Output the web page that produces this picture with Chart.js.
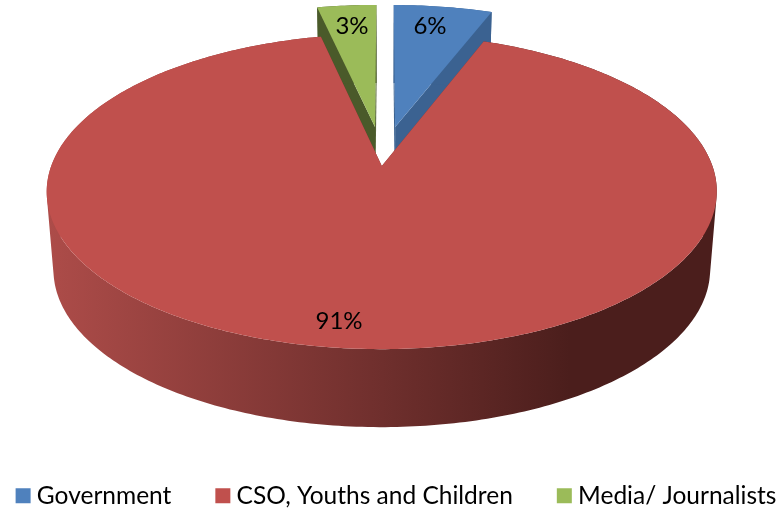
<!DOCTYPE html>
<html>
<head>
<meta charset="utf-8">
<style>html,body{margin:0;padding:0;background:#fff}canvas{display:block}</style>
<script src="https://cdn.jsdelivr.net/npm/chart.js@4/dist/chart.umd.min.js"></script>
</head>
<body>
<canvas id="c" width="780" height="510"></canvas>
<script>
const categories = ['Government', 'CSO, Youths and Children', 'Media/ Journalists'];
const values = [5.75, 90.8, 3.45];
const faceColors = ['#4f81bd', '#c0504d', '#9bbb59'];
const cutColors = ['#3b6291', '#7a3230', '#4a5a2a'];
const explode = [30, 30, 30];
const planeShift = [0.008, 0, -0.017];
const labelSpots = [[430, 26], [339, 321], [352, 26]];

const view = {cx: 385, cy: 146, a: 323.6, b: 147, p: 0.159, depth: 78, shrink: 0.98};
function project(X, Y) {
  const w = 1 - view.p * Y;
  return [view.cx + view.a * X / w, view.cy + view.b * Y / w];
}
function lower(pt) {
  return [view.cx + (pt[0] - view.cx) * view.shrink, pt[1] + view.depth];
}
function polygon(ctx, pts, fill) {
  ctx.beginPath();
  pts.forEach((p, i) => i ? ctx.lineTo(p[0], p[1]) : ctx.moveTo(p[0], p[1]));
  ctx.closePath();
  ctx.fillStyle = fill;
  ctx.fill();
}
// union of the wall quads: every quad is wound the same way, so none cancels another
function wallStrip(ctx, rim, fill) {
  ctx.beginPath();
  for (let k = 0; k < rim.length - 1; k++) {
    let q = [rim[k], rim[k + 1], lower(rim[k + 1]), lower(rim[k])];
    let area = 0;
    q.forEach((p, j) => {
      const n = q[(j + 1) % 4];
      area += p[0] * n[1] - n[0] * p[1];
    });
    if (area < 0) q = q.reverse();
    q.forEach((p, j) => j ? ctx.lineTo(p[0], p[1]) : ctx.moveTo(p[0], p[1]));
    ctx.closePath();
  }
  ctx.fillStyle = fill;
  ctx.fill();
}
function sliceShape(arc, i) {
  const q = arc.getProps(['startAngle', 'endAngle', 'outerRadius'], true);
  const t0 = q.startAngle + Math.PI / 2, t1 = q.endAngle + Math.PI / 2;
  const mid = (t0 + t1) / 2, e = arc.options.offset / q.outerRadius;
  const ox = e * Math.sin(mid) + planeShift[i], oy = -e * Math.cos(mid);
  const rim = [];
  const n = Math.max(2, Math.ceil((t1 - t0) / 0.015));
  for (let k = 0; k <= n; k++) {
    const t = t0 + (t1 - t0) * k / n;
    rim.push(project(ox + Math.sin(t), oy - Math.cos(t)));
  }
  return {apex: project(ox, oy), rim};
}
const pie3d = {
  id: 'pie3d',
  beforeDatasetDraw(chart, args) {
    const ctx = chart.ctx, arcs = args.meta.data;
    const grad = ctx.createLinearGradient(47, 0, 718, 0);
    grad.addColorStop(0, '#ad4c49');
    grad.addColorStop(0.5, '#6f2f2d');
    grad.addColorStop(0.78, '#4b1e1c');
    grad.addColorStop(1, '#4b1e1c');
    [0, 2, 1].forEach(i => {
      const s = sliceShape(arcs[i], i);
      const last = s.rim[s.rim.length - 1], first = s.rim[0];
      polygon(ctx, [s.apex, first, lower(first), lower(s.apex)], cutColors[i]);
      polygon(ctx, [s.apex, last, lower(last), lower(s.apex)], cutColors[i]);
      wallStrip(ctx, s.rim, i === 1 ? grad : cutColors[i]);
      polygon(ctx, [s.apex].concat(s.rim), arcs[i].options.backgroundColor);
    });
    return false;
  },
  afterDraw(chart) {
    const ctx = chart.ctx;
    ctx.save();
    ctx.font = '24px Lato';
    ctx.fillStyle = '#000';
    ctx.textAlign = 'center';
    ctx.textBaseline = 'middle';
    const total = values.reduce((a, b) => a + b, 0);
    values.forEach((v, i) => {
      ctx.fillText(Math.round(v / total * 100) + '%', labelSpots[i][0], labelSpots[i][1]);
    });
    ctx.restore();
  }
};
new Chart(document.getElementById('c'), {
  type: 'pie',
  plugins: [pie3d],
  data: {
    labels: categories,
    datasets: [{data: values, backgroundColor: faceColors, borderWidth: 0, offset: explode, clip: false}]
  },
  options: {
    responsive: false,
    animation: false,
    radius: 225,
    layout: {padding: {bottom: -8, left: -35.5, right: -53.5}},
    plugins: {
      tooltip: {enabled: false},
      legend: {
        position: 'bottom',
        labels: {
          usePointStyle: true, pointStyle: 'rect', boxWidth: 3, boxHeight: 15,
          padding: 50, color: '#000', font: {family: 'Lato', size: 24.5}
        }
      }
    }
  }
});
</script>
</body>
</html>
